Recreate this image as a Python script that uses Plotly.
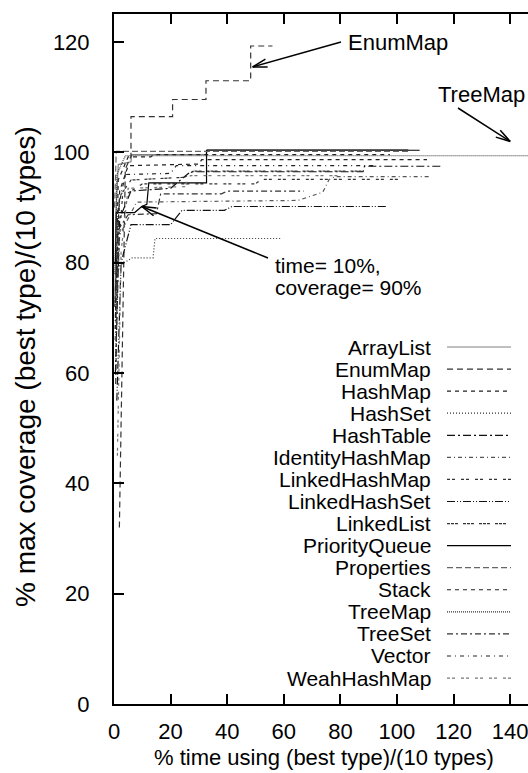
import math
import plotly.graph_objects as go

# ---------------- data ----------------
names = ["ArrayList", "EnumMap", "HashMap", "HashSet", "HashTable", "IdentityHashMap",
         "LinkedHashMap", "LinkedHashSet", "LinkedList", "PriorityQueue", "Properties",
         "Stack", "TreeMap", "TreeSet", "Vector", "WeahHashMap"]

arraylist_x = [0.3, 0.8, 1.5, 6, 6.2, 32.5, 33, 104]
arraylist_y = [72, 90, 97.8, 98.3, 99.6, 99.6, 100.5, 100.5]
enummap_x = [1.9, 3.2, 4, 6, 6, 20.7, 20.7, 32.5, 32.5, 48.3, 48.3, 56]
enummap_y = [32, 78, 97, 99.3, 106.5, 106.5, 109.6, 109.6, 113, 113, 119.3, 119.3]
hashmap_x = [0.5, 2, 5, 30, 31, 110.6]
hashmap_y = [75, 93, 97.6, 97.9, 98.7, 98.7]
hashset_x = [0.7, 0.8, 2, 6.5, 13.8, 14.5, 59]
hashset_y = [62, 77, 79.5, 80.9, 80.9, 84.4, 84.4]
hashtable_x = [0.5, 2, 6, 20, 27, 88, 88.5, 116]
hashtable_y = [60, 88, 93, 93.5, 96.5, 96.5, 97.5, 97.5]
identity_x = [0.4, 2, 8, 65, 73.8, 76, 78, 111.7]
identity_y = [66, 85, 91, 91.3, 92.8, 95.1, 95.6, 95.6]
linkedhashmap_x = [1, 3, 10, 50, 52, 101]
linkedhashmap_y = [78, 92, 94.3, 94.3, 95.1, 95.1]
linkedhashset_x = [1, 2.5, 6, 20, 24, 39, 41.7, 96.5]
linkedhashset_y = [55, 80, 86.9, 86.9, 89.5, 89.5, 90.2, 90.2]
linkedlist_x = [0.3, 2, 6, 25, 28, 88]
linkedlist_y = [72, 92, 95, 95.5, 96.6, 96.6]
priorityqueue_x = [0.5, 0.8, 7.3, 9.8, 11.6, 12.3, 32.7, 32.7, 108]
priorityqueue_y = [80, 89.1, 89.1, 90.2, 90.6, 94.5, 94.5, 100.4, 100.4]
properties_x = [0.2, 0.8, 104]
properties_y = [90, 100.2, 100.2]
stack_x = [0.5, 1.5, 5, 13, 14, 97.5]
stack_y = [70, 95, 99.2, 99.2, 99.6, 99.6]
treemap_x = [0.3, 1, 4, 150]
treemap_y = [78, 96, 99.4, 99.4]
treeset_x = [0.6, 1.5, 5, 15, 16.5, 38, 40, 67]
treeset_y = [58, 86, 88.7, 88.9, 92.5, 92.5, 93, 93]
vector_x = [0.4, 1.5, 4, 20, 22, 92]
vector_y = [68, 90, 96, 96.2, 97.6, 97.6]
weakhashmap_x = [1.2, 2.5, 5, 25, 27, 80]
weakhashmap_y = [45, 82, 93.5, 93.8, 95.8, 95.8]

series_x = [arraylist_x, enummap_x, hashmap_x, hashset_x, hashtable_x, identity_x,
            linkedhashmap_x, linkedhashset_x, linkedlist_x, priorityqueue_x, properties_x,
            stack_x, treemap_x, treeset_x, vector_x, weakhashmap_x]
series_y = [arraylist_y, enummap_y, hashmap_y, hashset_y, hashtable_y, identity_y,
            linkedhashmap_y, linkedhashset_y, linkedlist_y, priorityqueue_y, properties_y,
            stack_y, treemap_y, treeset_y, vector_y, weakhashmap_y]

x_ticks = [0, 20, 40, 60, 80, 100, 120, 140]
y_ticks = [0, 20, 40, 60, 80, 100, 120]

# ---------------- styles ----------------
styles = [
    ("#808080", "solid"),
    ("#333333", "6px,4px"),
    ("#222222", "4px,4px"),
    ("#333333", "1px,2px"),
    ("#111111", "8px,3px,2px,3px"),
    ("#555555", "4px,3px,1px,3px"),
    ("#333333", "3px,2px,3px,6px"),
    ("#111111", "8px,2px,1px,2px,1px,2px"),
    ("#333333", "3px,1px,3px,1px,3px,5px"),
    ("#000000", "solid"),
    ("#666666", "6px,3px"),
    ("#222222", "4px,4px"),
    ("#333333", "1px,1px"),
    ("#333333", "6px,3px,2px,3px"),
    ("#222222", "4px,4px,1px,4px"),
    ("#777777", "3px,2px,3px,6px"),
]

W, H = 528, 773
ML, MR, MT, MB = 114, 0, 14, 69
PW, PH = W - ML - MR, H - MT - MB
XR = [0, 146.3]
YR = [0, 125.1]
FONT = "Liberation Sans, Arial, sans-serif"
FS = 22     # tick labels, x title
FL = 21     # legend / callout texts

fig = go.Figure()
for nm, xs, ys, (col, dash) in zip(names, series_x, series_y, styles):
    fig.add_trace(go.Scatter(x=xs, y=ys, mode="lines", name=nm, showlegend=False,
                             line=dict(color=col, dash=dash, width=1.2)))

shapes = []
annotations = []


def px2paper(px, py):
    return (px - ML) / PW, (MT + PH - py) / PH


def data2px(xd, yd):
    return ML + (xd - XR[0]) / (XR[1] - XR[0]) * PW, MT + PH - (yd - YR[0]) / (YR[1] - YR[0]) * PH


def add_text(text, px, py, anchor="left", size=FL, angle=0):
    xp, yp = px2paper(px, py)
    annotations.append(dict(text=text, x=xp, y=yp, xref="paper", yref="paper", xanchor=anchor,
                            yanchor="middle", showarrow=False, textangle=angle,
                            font=dict(size=size, color="black")))


def add_line_px(x0, y0, x1, y1, width=1.5, color="black", dash="solid"):
    a, b = px2paper(x0, y0)
    c, d = px2paper(x1, y1)
    shapes.append(dict(type="line", xref="paper", yref="paper", x0=a, y0=b, x1=c, y1=d,
                       line=dict(color=color, width=width, dash=dash)))


def add_arrow(tail_px, tip_data):
    tx, ty = tail_px
    hx, hy = data2px(*tip_data)
    add_line_px(tx, ty, hx, hy)
    ang = math.atan2(ty - hy, tx - hx)
    L = 15
    for s in (-1, 1):
        a = ang + s * math.radians(16)
        add_line_px(hx, hy, hx + L * math.cos(a), hy + L * math.sin(a))


# legend (gnuplot style: text right-aligned, sample on the right)
row0, row_step = 347, 22.07
for i, (nm, (col, dash)) in enumerate(zip(names, styles)):
    py = row0 + i * row_step
    add_text(nm, 433, py, anchor="right")
    add_line_px(447, py, 511, py, width=1.2, color=col, dash=dash)

# callouts
add_text("EnumMap", 346, 42, size=FS)
add_arrow((341, 42), (49, 115.5))

add_text("TreeMap", 436, 95, size=FS)
add_arrow((458, 108), (140, 102))

add_text("time= 10%,", 273, 265)
add_text("coverage= 90%", 273, 287)
add_arrow((268, 258), (9.8, 90.2))

# axis titles
add_text("% time using (best type)/(10 types)", 324, 757, anchor="center", size=FS)
add_text("% max coverage (best type)/(10 types)", 25, 367, anchor="center", size=28, angle=-90)

fig.update_layout(
    width=W, height=H,
    margin=dict(l=ML, r=MR, t=MT, b=MB, pad=0),
    paper_bgcolor="white", plot_bgcolor="white",
    font=dict(family=FONT, size=FS, color="black"),
    showlegend=False,
    shapes=shapes, annotations=annotations,
    xaxis=dict(range=XR, tickvals=x_ticks, ticks="inside", ticklen=10, tickwidth=1.5,
               tickcolor="black", showline=True, linecolor="black", linewidth=2,
               mirror="ticks", showgrid=False, zeroline=False, ticklabelstandoff=7,
               ticklabeloverflow="allow", tickfont=dict(size=FS)),
    yaxis=dict(range=YR, tickvals=y_ticks, ticks="inside", ticklen=10, tickwidth=1.5,
               tickcolor="black", showline=True, linecolor="black", linewidth=2,
               mirror=False, showgrid=False, zeroline=False, ticklabelstandoff=18,
               tickfont=dict(size=FS)),
)

fig.write_html("out.html")
